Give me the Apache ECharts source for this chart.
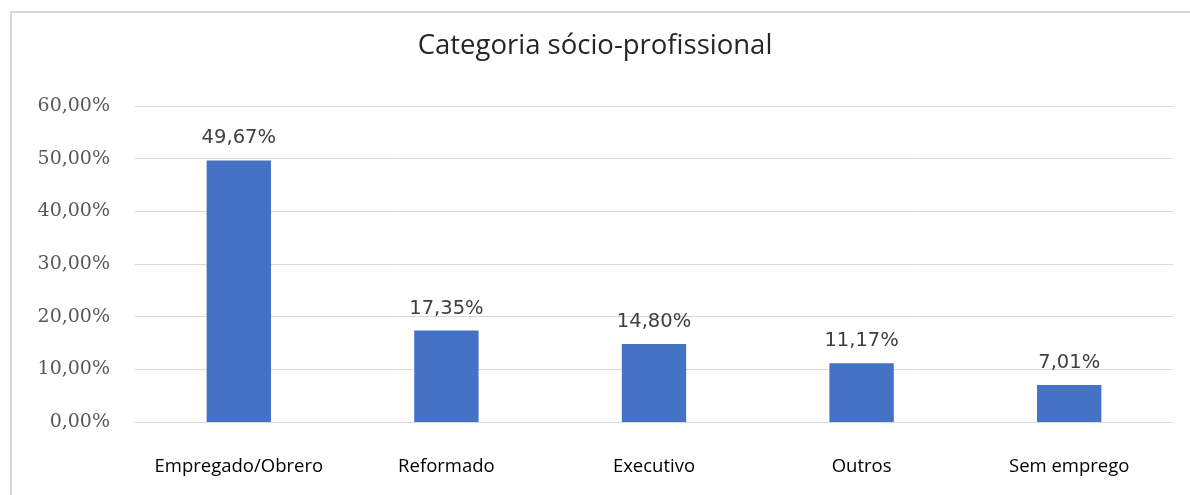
<!DOCTYPE html>
<html>
<head>
<meta charset="utf-8">
<script src="https://cdn.jsdelivr.net/npm/echarts@6/dist/echarts.min.js"></script>
<style>html,body{margin:0;padding:0;background:#fff}#c{width:1190px;height:495px}</style>
</head>
<body>
<div id="c"></div>
<script>
const categories = ['Empregado/Obrero', 'Reformado', 'Executivo', 'Outros', 'Sem emprego'];
const values = [49.67, 17.35, 14.80, 11.17, 7.01];
const yTicks = [0, 10, 20, 30, 40, 50, 60];

const fmt = v => Number(v).toFixed(2).replace('.', ',') + '%';

const chart = echarts.init(document.getElementById('c'));
chart.setOption({
  backgroundColor: '#fff',
  animation: false,
  title: {
    text: 'Categoria sócio-profissional',
    left: 'center',
    top: 27,
    textStyle: { fontFamily: 'Open Sans', fontSize: 27.5, fontWeight: 'normal', color: '#262626' }
  },
  graphic: [{
    type: 'rect',
    shape: { x: 11, y: 12, width: 1400, height: 700 },
    style: { fill: null, stroke: '#d9d9d9', lineWidth: 2 },
    silent: true
  }],
  grid: { left: 135, right: 17, top: 106, bottom: 73, containLabel: false },
  xAxis: {
    type: 'category',
    data: categories,
    axisLine: { show: true, lineStyle: { color: '#d9d9d9', width: 1 } },
    axisTick: { show: false },
    axisLabel: { interval: 0, hideOverlap: false, margin: 35, fontFamily: 'Open Sans', fontSize: 18.5, color: '#000' }
  },
  yAxis: {
    type: 'value',
    min: yTicks[0],
    max: yTicks[yTicks.length - 1],
    interval: 10,
    axisLine: { show: false },
    axisTick: { show: false },
    splitLine: { lineStyle: { color: '#d9d9d9', width: 1 } },
    axisLabel: { margin: 25, fontFamily: 'DejaVu Serif', fontSize: 19, color: '#595959', formatter: fmt }
  },
  series: [{
    type: 'bar',
    data: values,
    barWidth: '31%',
    itemStyle: { color: '#4472C4' },
    label: {
      show: true,
      position: 'top',
      distance: 12,
      fontFamily: 'DejaVu Sans',
      fontSize: 19.5,
      color: '#404040',
      formatter: p => fmt(p.value)
    }
  }]
});
</script>
</body>
</html>
